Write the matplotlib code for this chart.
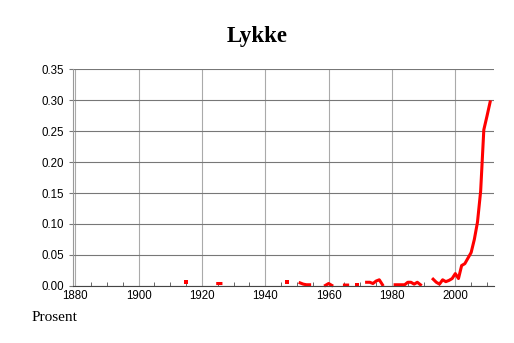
import numpy as np
import matplotlib
matplotlib.use("Agg")
import matplotlib.pyplot as plt
from matplotlib.ticker import MultipleLocator

# aar og verdier (nan = hull i serien)
aar = [1915, 1916,
       1924, 1925, 1926, 1927,
       1947, 1948,
       1950, 1951, 1952, 1953, 1954, 1955,
       1959, 1960, 1961, 1962,
       1965, 1966, 1967,
       1969, 1970,
       1972, 1973, 1974, 1975, 1976, 1977, 1978,
       1981, 1982, 1983, 1984, 1985, 1986, 1987, 1988, 1989, 1990,
       1993, 1994, 1995, 1996, 1997, 1998, 1999, 2000, 2001, 2002,
       2003, 2004, 2005, 2006, 2007, 2008, 2009, 2010, 2011]
prosent = [0.007, np.nan,
           np.nan, 0.004, 0.004, np.nan,
           0.006, np.nan,
           np.nan, 0.005, 0.003, 0.002, 0.002, np.nan,
           0.001, 0.004, 0.001, np.nan,
           0.0015, 0.0015, np.nan,
           0.002, np.nan,
           0.006, 0.006, 0.004, 0.008, 0.010, 0.002, np.nan,
           0.002, 0.002, 0.002, 0.002, 0.006, 0.006, 0.003, 0.006, 0.002, np.nan,
           0.011, 0.006, 0.003, 0.010, 0.007, 0.009, 0.012, 0.020, 0.012, 0.033,
           0.036, 0.045, 0.054, 0.075, 0.103, 0.153, 0.252, 0.274, 0.297]

x_ticks = [1880, 1900, 1920, 1940, 1960, 1980, 2000]
y_ticks = [0.00, 0.05, 0.10, 0.15, 0.20, 0.25, 0.30, 0.35]

# enkeltpunkter uten naboer synes ikke som linje, tegn dem som prikker
v = np.array(prosent)
forrige = np.concatenate([[np.nan], v[:-1]])
neste = np.concatenate([v[1:], [np.nan]])
alene = ~np.isnan(v) & np.isnan(forrige) & np.isnan(neste)

fig = plt.figure(figsize=(5.14, 3.43), dpi=100)
ax = fig.add_axes([0.1414, 0.1662, 0.8196, 0.6326])

ax.plot(aar, prosent, color="red", lw=2.2, solid_capstyle="projecting",
        clip_on=False)
ax.plot(np.array(aar)[alene], v[alene], ls="none", marker="s", ms=2.6,
        color="red", mew=0, clip_on=False)

ax.set_xlim(1879.2, 2012.2)
ax.set_ylim(0, 0.35)
ax.set_xticks(x_ticks)
ax.set_yticks(y_ticks)
ax.set_yticklabels(["%.2f" % t for t in y_ticks])
ax.xaxis.set_minor_locator(MultipleLocator(5))

ax.grid(axis="x", color="#aaaaaa", lw=0.8)
ax.grid(axis="y", color="#777777", lw=0.8)
ax.set_axisbelow(True)

for s in ["top", "right"]:
    ax.spines[s].set_visible(False)
ax.spines["left"].set_color("#999999")
ax.spines["left"].set_linewidth(0.8)
ax.spines["bottom"].set_color("#444444")
ax.spines["bottom"].set_linewidth(0.8)

ax.tick_params(axis="x", which="major", length=0, pad=3, labelsize=8.3)
ax.tick_params(axis="x", which="minor", direction="in", length=3,
               color="#666666", width=0.7)
ax.tick_params(axis="y", length=3, color="#777777", width=0.8, pad=3,
               labelsize=8.3)
for lab in ax.get_xticklabels() + ax.get_yticklabels():
    lab.set_family("Liberation Sans")

fig.text(0.5, 0.895, "Lykke", ha="center", va="center",
         family="Liberation Serif", weight="bold", fontsize=16.5)
fig.text(0.062, 0.075, "Prosent", ha="left", va="center",
         family="Liberation Serif", fontsize=11)

fig.savefig("out.png", dpi=100)
